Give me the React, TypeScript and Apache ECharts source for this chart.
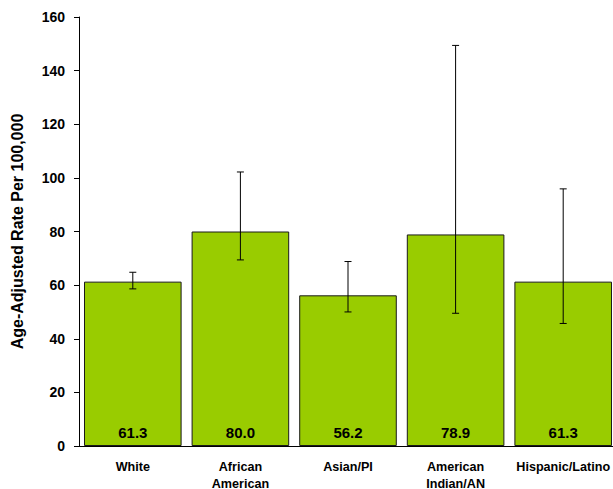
import React, { useEffect, useRef } from "react";
import * as echarts from "echarts";

const categories = ["White", "African\nAmerican", "Asian/PI", "American\nIndian/AN", "Hispanic/Latino"];
const rates = [61.3, 80.0, 56.2, 78.9, 61.3];
const lowerCI = [58.6, 69.4, 50.0, 49.5, 45.7];
const upperCI = [64.8, 102.2, 68.8, 149.4, 95.9];
const yTicks = [0, 20, 40, 60, 80, 100, 120, 140, 160];

export default function App() {
  const ref = useRef<HTMLDivElement>(null);
  useEffect(() => {
    if (!ref.current) return;
    const chart = echarts.init(ref.current, null, { renderer: "svg" });
    const font = "'Liberation Sans', Arial, sans-serif";
    chart.setOption({
      animation: false,
      grid: { left: 79, right: -4, top: 17, bottom: 43, containLabel: false, outerBoundsMode: "none" },
      xAxis: {
        type: "category",
        data: categories,
        axisLine: { lineStyle: { color: "#000", width: 1 } },
        axisTick: { show: false },
        axisLabel: {
          color: "#000",
          fontWeight: "bold",
          fontSize: 12.6,
          fontFamily: font,
          margin: 12,
          lineHeight: 17,
          interval: 0,
        },
      },
      yAxis: {
        type: "value",
        min: yTicks[0],
        max: yTicks[yTicks.length - 1],
        interval: 20,
        name: "Age-Adjusted Rate Per 100,000",
        nameLocation: "middle",
        nameGap: 54,
        nameTextStyle: { color: "#000", fontWeight: "bold", fontSize: 16, fontFamily: font },
        axisLine: { show: true, lineStyle: { color: "#000", width: 1 } },
        axisTick: { show: true, length: 5, lineStyle: { color: "#000" } },
        splitLine: { show: false },
        axisLabel: { color: "#000", fontWeight: "bold", fontSize: 14, fontFamily: font, margin: 14 },
      },
      series: [
        {
          type: "bar",
          data: rates,
          barCategoryGap: "9.3%",
          itemStyle: { color: "#99CC00", borderColor: "#1a1a1a", borderWidth: 1 },
          label: {
            show: true,
            position: "insideBottom",
            distance: 6,
            color: "#000",
            fontWeight: "bold",
            fontSize: 15,
            fontFamily: font,
            formatter: (p: any) => Number(p.value).toFixed(1),
          },
        },
        {
          type: "custom",
          data: categories.map((_, i) => [i, lowerCI[i], upperCI[i]]),
          renderItem: (params: any, api: any) => {
            const lo = api.coord([api.value(0), api.value(1)]);
            const hi = api.coord([api.value(0), api.value(2)]);
            const x = lo[0];
            const cap = 3.5;
            const style = { stroke: "#000", lineWidth: 1 };
            return {
              type: "group",
              children: [
                { type: "line", shape: { x1: x, y1: lo[1], x2: x, y2: hi[1] }, style },
                { type: "line", shape: { x1: x - cap, y1: lo[1], x2: x + cap, y2: lo[1] }, style },
                { type: "line", shape: { x1: x - cap, y1: hi[1], x2: x + cap, y2: hi[1] }, style },
              ],
            };
          },
          z: 10,
        },
      ],
    });
    return () => chart.dispose();
  }, []);
  return <div ref={ref} style={{ width: 613, height: 489, position: "absolute", left: 0, top: 0 }} />;
}
